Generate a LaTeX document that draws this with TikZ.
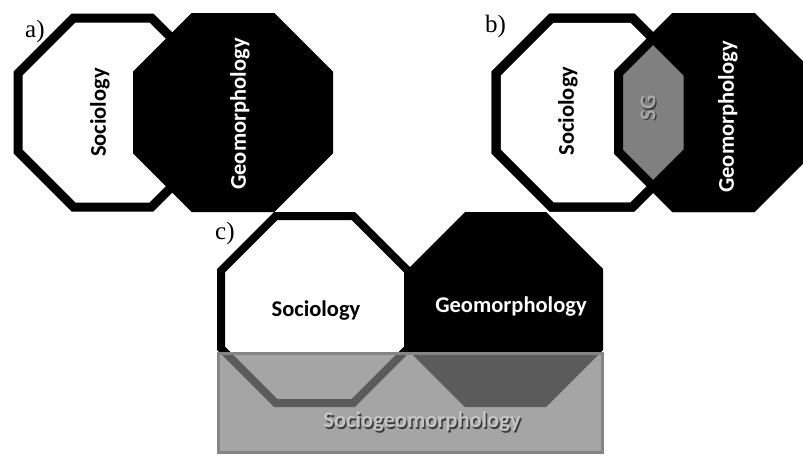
\documentclass[tikz,border=0pt]{standalone}
\usepackage{fontspec}
\setmainfont{Liberation Serif}
\newfontfamily\calibri{Carlito}
\newcommand\oct[6][]{\path[#1] (#2+#6,#3) -- (#4-#6,#3) -- (#4,#3+#6) -- (#4,#5-#6) -- (#4-#6,#5) -- (#2+#6,#5) -- (#2,#5-#6) -- (#2,#3+#6) -- cycle;}
\definecolor{sggray}{HTML}{808080}
\definecolor{rectfill}{HTML}{818181}
\definecolor{rectline}{HTML}{858585}
\definecolor{embtext}{HTML}{C4C4C4}
\definecolor{embshadow}{HTML}{3C3C3C}
\tikzset{
  x=1pt, y=-1pt,
  lbl/.style={font=\fontsize{25}{30}\selectfont, anchor=base west, inner sep=0pt},
  disc/.style={font=\calibri\bfseries\fontsize{22.5}{27}\selectfont, inner sep=0pt},
  whiteoct/.style={fill=white, draw=black, line width=9pt, line join=miter},
  blackoct/.style={fill=black, draw=black, line width=9pt, line join=miter},
}
\begin{document}
\begin{tikzpicture}
\useasboundingbox (0,0) rectangle (803,456);
\clip (0,0) rectangle (803,456);
\fill[white] (0,0) rectangle (803,456);

% ---------- panel a ----------
\oct[whiteoct]{18}{18}{207}{207}{55.4}
\oct[blackoct]{137.5}{17.5}{328.5}{207.5}{55.9}
\node[lbl] (la) at (25,37) {a)};
\node[disc, rotate=90, text=black] (soca) at (100,112.5) {Sociology};
\node[disc, rotate=90, text=white] (geoa) at (240,114) {Geomorphology};

% ---------- panel b ----------
\oct[whiteoct]{496}{18}{688}{207}{55.5}
\oct[blackoct]{618.5}{17.5}{808.5}{207.5}{55.7}
\begin{scope}
  \oct[clip]{496}{18}{688}{207}{55.5}
  \oct[fill=sggray]{618.5}{17.5}{808.5}{207.5}{55.7}
\end{scope}
\oct[draw=black, line width=9pt]{496}{18}{688}{207}{55.5}
\oct[draw=black, line width=9pt]{618.5}{17.5}{808.5}{207.5}{55.7}
\node[lbl] (lb) at (485,32) {b)};
\node[disc, rotate=90, text=black] (socb) at (568,111) {Sociology};
\node[disc, rotate=90, text=embshadow] at (649.2,109.2) {SG};
\node[disc, rotate=90, text=gray!70] (sgb) at (648,108) {SG};
\node[disc, rotate=90, text=white] (geob) at (728,117) {Geomorphology};

% ---------- panel c ----------
\oct[whiteoct, line width=8pt]{221}{216}{408}{403}{54.8}
\oct[fill=black]{408}{212}{603}{407}{57}
\draw[fill=rectfill, fill opacity=0.71, draw=rectline, line width=3pt] (218.5,353.5) rectangle (602.5,452.5);
\node[lbl] (lc) at (215,239) {c)};
\node[disc, text=black] (socc) at (316,311) {Sociology};
\node[disc, text=white] (geoc) at (511,307) {Geomorphology};
\node[disc, text=embshadow] at (423.5,423.5) {Sociogeomorphology};
\node[disc, text=embtext] (sgc) at (422,422) {Sociogeomorphology};
\end{tikzpicture}
\end{document}
